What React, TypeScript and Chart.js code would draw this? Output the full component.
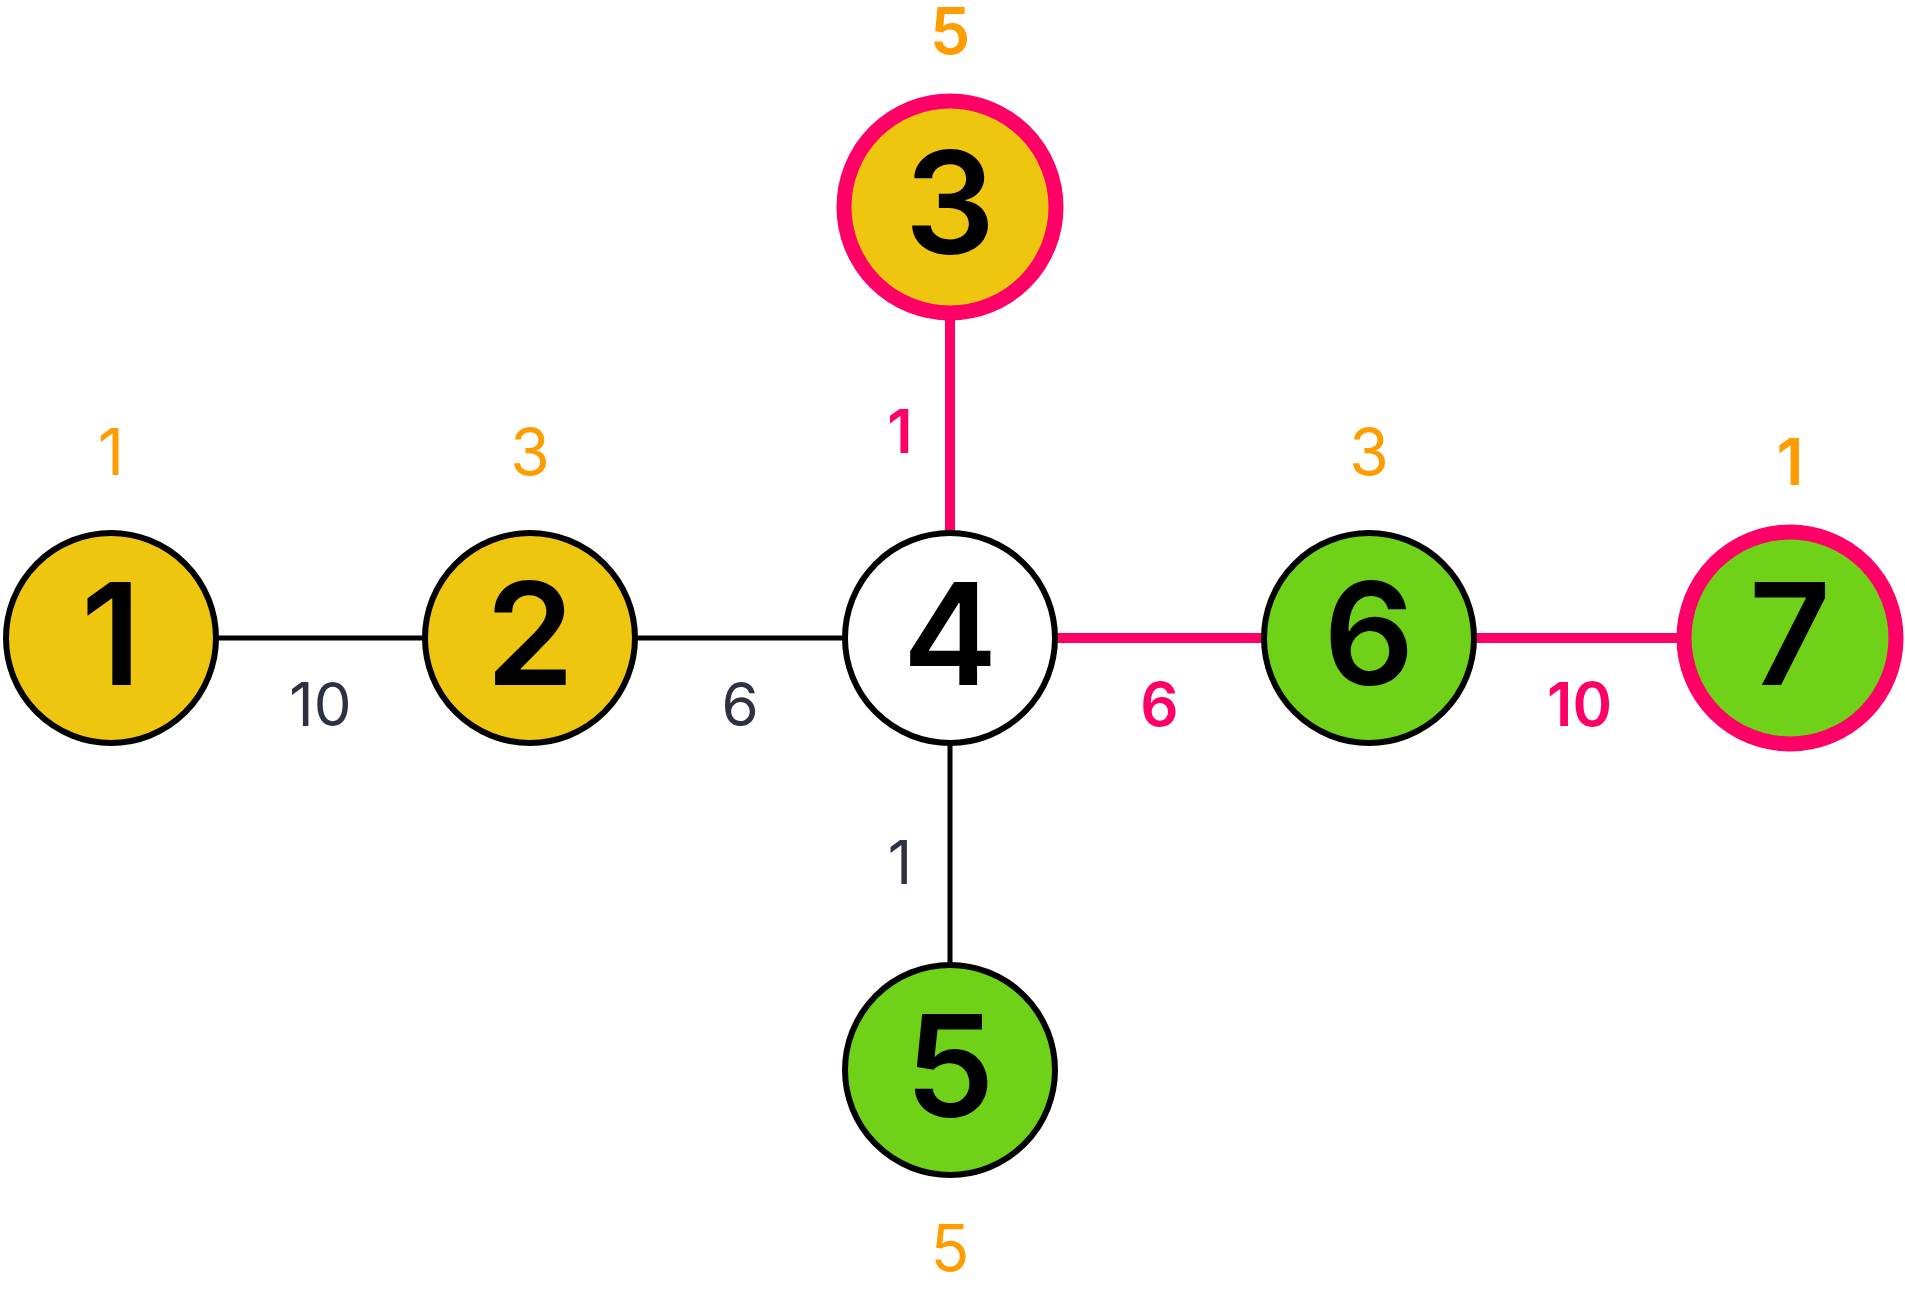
import React, { useRef, useEffect } from 'react';
import { Chart, registerables } from 'chart.js';

Chart.register(...registerables);

// node data
const nodeNames = ['1', '2', '3', '4', '5', '6', '7'];
const nodeX = [111, 530, 950, 950, 950, 1369, 1790];
const nodeY = [638, 638, 207, 638, 1070, 638, 638];
const nodeValues = ['1', '3', '5', '', '5', '3', '1'];
const nodeValueSide = ['top', 'top', 'top', 'top', 'bottom', 'top', 'top'];
const nodeFill = ['#eec50f', '#eec50f', '#eec50f', '#ffffff', '#6fd118', '#6fd118', '#6fd118'];
const nodeHighlighted = [false, false, true, false, false, false, true];

// edges
const edgeFrom = [0, 1, 2, 3, 3, 5];
const edgeTo = [1, 3, 3, 4, 5, 6];
const edgeWeights = ['10', '6', '1', '1', '6', '10'];
const edgeHighlighted = [false, false, true, false, true, true];

const PINK = '#ff0066';
const DARK = '#2d3142';
const ORANGE = '#ff9c00';
const FONT = 'Inter, "Noto Sans", sans-serif';

const labelsPlugin = {
  id: 'graphLabels',
  afterDatasetsDraw(chart: any) {
    const { ctx, scales } = chart;
    const xs = scales.x;
    const ys = scales.y;
    ctx.save();
    ctx.textAlign = 'center';
    ctx.textBaseline = 'middle';
    // edge weights
    edgeWeights.forEach((w, i) => {
      const a = edgeFrom[i];
      const b = edgeTo[i];
      const mx = (nodeX[a] + nodeX[b]) / 2;
      const my = (nodeY[a] + nodeY[b]) / 2;
      const vertical = nodeX[a] === nodeX[b];
      let px = xs.getPixelForValue(mx);
      let py = ys.getPixelForValue(my);
      if (vertical) px -= 50;
      else py += 70;
      ctx.fillStyle = edgeHighlighted[i] ? PINK : DARK;
      ctx.font = (edgeHighlighted[i] ? '600 ' : '400 ') + '60px ' + FONT;
      ctx.fillText(w, px, py + (vertical ? 12 : 0));
    });
    // node labels and values
    nodeNames.forEach((n, i) => {
      const px = xs.getPixelForValue(nodeX[i]);
      const py = ys.getPixelForValue(nodeY[i]);
      ctx.fillStyle = '#000000';
      ctx.font = '600 142px ' + FONT;
      ctx.fillText(n, px, py + 4);
      const v = nodeValues[i];
      if (v) {
        const off = nodeHighlighted[i] ? 172 : 182;
        ctx.fillStyle = ORANGE;
        ctx.font = (nodeHighlighted[i] ? '600 ' : '400 ') + '64px ' + FONT;
        ctx.fillText(v, px, nodeValueSide[i] === 'top' ? py - off : py + off);
      }
    });
    ctx.restore();
  },
};

const App: React.FC = () => {
  const canvasRef = useRef<HTMLCanvasElement>(null);

  useEffect(() => {
    if (!canvasRef.current) return;
    const edgeSets = edgeFrom.map((a, i) => ({
      type: 'scatter' as const,
      data: [
        { x: nodeX[a], y: nodeY[a] },
        { x: nodeX[edgeTo[i]], y: nodeY[edgeTo[i]] },
      ],
      showLine: true,
      borderColor: edgeHighlighted[i] ? PINK : '#000000',
      borderWidth: edgeHighlighted[i] ? 10 : 5,
      pointRadius: 0,
      clip: false,
      order: 2,
    }));
    const chart = new Chart(canvasRef.current, {
      type: 'scatter',
      data: {
        datasets: [
          ...edgeSets,
          {
            data: nodeX.map((x, i) => ({ x, y: nodeY[i] })),
            pointRadius: nodeHighlighted.map((h) => (h ? 106 : 105)),
            pointBackgroundColor: nodeFill,
            pointBorderColor: nodeHighlighted.map((h) => (h ? PINK : '#000000')),
            pointBorderWidth: nodeHighlighted.map((h) => (h ? 15 : 6)),
            clip: false,
            order: 1,
          } as any,
        ],
      },
      options: {
        animation: false,
        responsive: false,
        maintainAspectRatio: false,
        layout: { padding: 0, autoPadding: false },
        plugins: { legend: { display: false }, tooltip: { enabled: false } },
        scales: {
          x: { type: 'linear', min: 0, max: 1905, display: false },
          y: { type: 'linear', min: 0, max: 1302, reverse: true, display: false },
        },
      } as any,
      plugins: [labelsPlugin],
    });
    return () => chart.destroy();
  }, []);

  return (
    <div style={{ position: 'absolute', left: 0, top: 0, width: 1905, height: 1302, background: '#fff' }}>
      <canvas ref={canvasRef} width={1905} height={1302} style={{ width: 1905, height: 1302 }} />
    </div>
  );
};

export default App;
